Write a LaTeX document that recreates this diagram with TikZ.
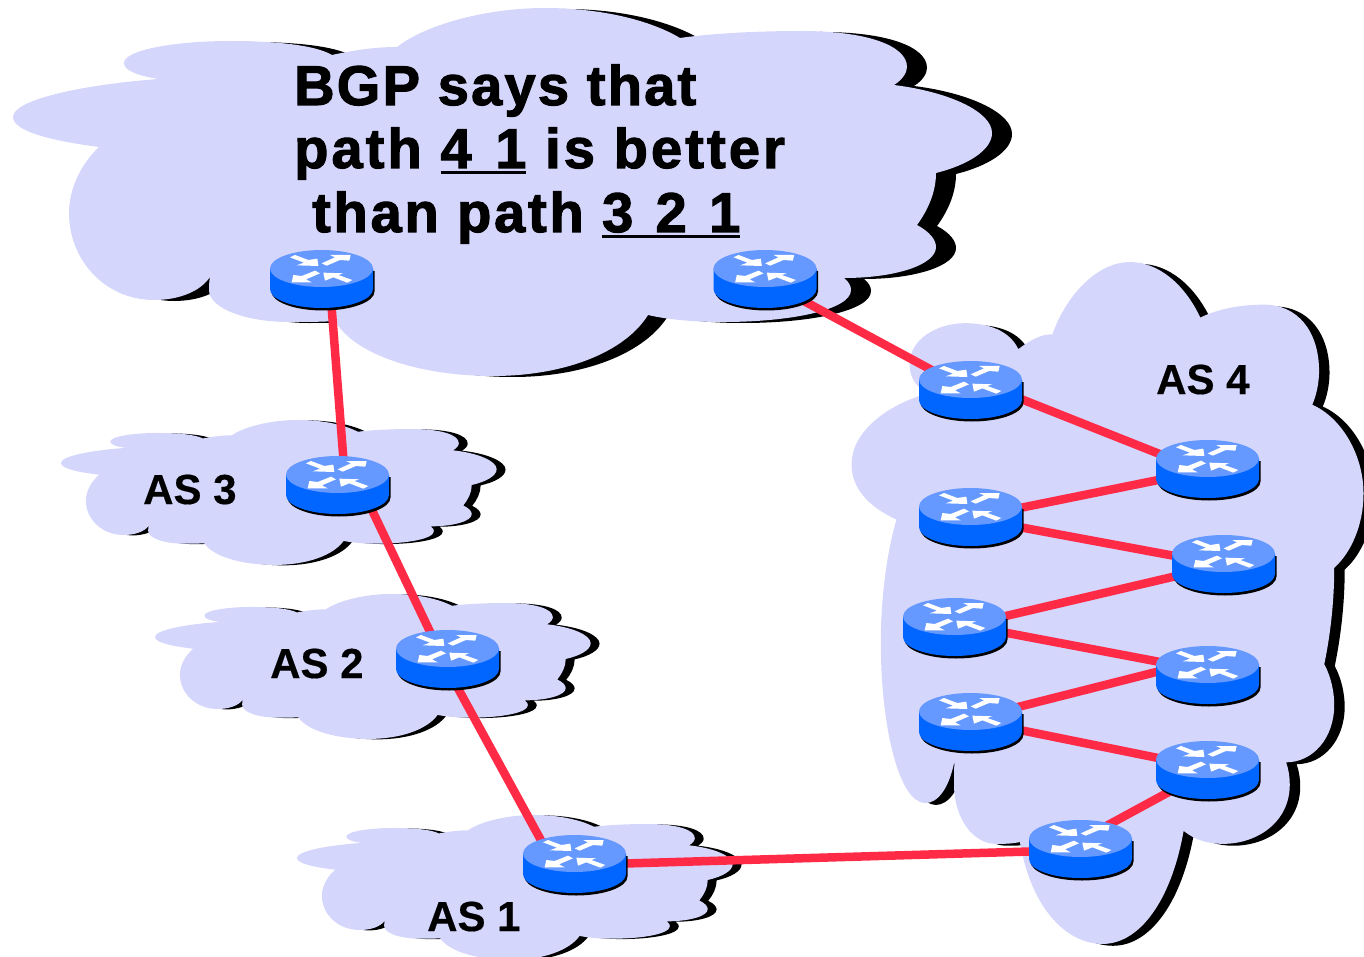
\documentclass[tikz,border=0pt]{standalone}
\usepackage{fontspec}
\setmainfont{Liberation Sans}
\newfontfamily\headfonta[FakeBold=2,LetterSpace=4.0]{Liberation Sans Bold}
\newfontfamily\headfontb[FakeBold=2,LetterSpace=5.6]{Liberation Sans Bold}
\newfontfamily\headfontc[FakeBold=2,LetterSpace=5.0]{Liberation Sans Bold}
\newfontfamily\labelfont[FakeBold=0.4]{Liberation Sans Bold}
\definecolor{cloudfill}{HTML}{D5D6FC}
\definecolor{linkred}{HTML}{FF2A45}
\definecolor{routertop}{HTML}{6699FF}
\definecolor{routerbody}{HTML}{0066FF}
\newcommand{\ulbox}[1]{\setbox0=\hbox{#1}\rlap{\rule[-6.5pt]{\wd0}{3pt}}\box0\relax}
\newcommand{\cloudpath}{
  (158,79) .. controls (135,75) and (124,70) .. (124,63)
  .. controls (124,50) and (175,41) .. (230,41)
  .. controls (275,41) and (315,45) .. (332,55)
  .. controls (355,50) and (375,47) .. (397,47)
  .. controls (425,25) and (485,8) .. (545,8)
  .. controls (600,8) and (650,20) .. (680,38)
  .. controls (715,33) and (760,31) .. (802,31)
  .. controls (865,31) and (907,45) .. (907,67)
  .. controls (907,73) and (902,80) .. (894,85)
  .. controls (950,92) and (992,112) .. (992,133)
  .. controls (992,150) and (968,165) .. (936,173)
  .. controls (936,192) and (928,210) .. (917,225)
  .. controls (930,232) and (936,240) .. (936,247)
  .. controls (936,265) and (895,278) .. (844,278)
  .. controls (849,282) and (851,286) .. (851,290)
  .. controls (851,310) and (790,322) .. (723,322)
  .. controls (695,322) and (670,320) .. (648,315)
  .. controls (625,352) and (565,376) .. (493,376)
  .. controls (420,376) and (355,355) .. (335,321)
  .. controls (320,322) and (305,322) .. (289,322)
  .. controls (245,322) and (209,308) .. (209,290)
  .. controls (209,286) and (209,282) .. (210,277)
  .. controls (200,292) and (178,300) .. (154,300)
  .. controls (105,300) and (69,260) .. (69,213)
  .. controls (69,190) and (80,165) .. (99,147)
  .. controls (45,140) and (13,130) .. (13,117)
  .. controls (13,100) and (80,85) .. (158,79) -- cycle}
\tikzset{
  x=1pt,y=-1pt,
  pics/netcloud/.style={code={
    \fill[black,shift={(20,1)}] \cloudpath;
    \fill[cloudfill] \cloudpath;
  }},
  pics/routerpic/.style={code={
    \fill[black,shift={(1.5,2.5)}] (-51.5,-11.5) -- (-51.5,9) arc[x radius=51.5,y radius=-19,start angle=180,end angle=360] -- (51.5,-11.5) -- cycle;
    \fill[routerbody] (-51.5,-11.5) -- (-51.5,9) arc[x radius=51.5,y radius=-19,start angle=180,end angle=360] -- (51.5,-11.5) -- cycle;
    \fill[routertop] (0,-11.5) ellipse[x radius=51.5,y radius=18.5];
    \begin{scope}[shift={(-61.5,-40)},scale=0.3333]
      \fill[white] (90,52)--(105,45)--(145,60)--(172,56)--(175,78)--(110,76)--(132,68)--cycle;
      \fill[white] (185,70)--(200,77)--(240,60)--(268,62)--(272,45)--(210,45)--(225,52)--cycle;
      \fill[white] (180,100)--(165,92)--(125,108)--(100,105)--(95,127)--(155,127)--(138,118)--cycle;
      \fill[white] (277,120)--(262,128)--(220,112)--(195,122)--(190,98)--(250,100)--(235,105)--cycle;
    \end{scope}
  }},
  anchorpt/.style={inner sep=0pt,minimum width=103pt,minimum height=60pt},
  link/.style={draw=linkred,line width=8.5pt},
  aslabel/.style={inner sep=0pt,anchor=base west,font=\labelfont\fontsize{42}{42}\selectfont},
  headline/.style={inner sep=0pt,anchor=base west}
}
\begin{document}
\begin{tikzpicture}
\clip (0,0) rectangle (1364,957);
\useasboundingbox (0,0) rectangle (1364,957);
% clouds
\pic at (0,0) {netcloud};
\pic[shift={(844.7,247.2)},xscale=0.523,yscale=1.853] at (0,0) {netcloud};
\pic[shift={(55.2,416.8)},xscale=0.445,yscale=0.394] at (0,0) {netcloud};
\pic[shift={(149.2,590.8)},xscale=0.445,yscale=0.394] at (0,0) {netcloud};
\pic[shift={(291.2,811.8)},xscale=0.445,yscale=0.394] at (0,0) {netcloud};
% router anchors
\node[anchorpt] (tl) at (321.5,280) {};
\node[anchorpt] (tr) at (765,280) {};
\node[anchorpt] (as3r) at (337.5,486) {};
\node[anchorpt] (as2r) at (447.5,660) {};
\node[anchorpt] (as1r) at (574.5,865) {};
\node[anchorpt] (a) at (970.5,391) {};
\node[anchorpt] (b) at (1207.5,470) {};
\node[anchorpt] (c) at (970.5,518) {};
\node[anchorpt] (d) at (1223.5,565) {};
\node[anchorpt] (e) at (954.5,628) {};
\node[anchorpt] (f) at (1207.5,676) {};
\node[anchorpt] (g) at (970.5,723) {};
\node[anchorpt] (h) at (1207.5,771) {};
\node[anchorpt] (i) at (1080.5,850) {};
% links
\draw[link] ([shift={(8,0)}]tl.center) -- ([shift={(8,0)}]as3r.center);
\draw[link] ([shift={(23,0)}]as3r.center) -- ([shift={(-4,0)}]as2r.center);
\draw[link] ([shift={(-5,0)}]as2r.center) -- ([shift={(-20,0)}]as1r.center);
\draw[link] (as1r.center) -- (i.center);
\draw[link] (tr.center) -- (a.center);
\draw[link] ([shift={(0,-12)}]a.center) -- ([shift={(0,3)}]b.center);
\draw[link] (c.center) -- (b.center);
\draw[link] (c.center) -- (d.center);
\draw[link] (e.center) -- (d.center);
\draw[link] ([shift={(0,-5)}]e.center) -- ([shift={(0,-5)}]f.center);
\draw[link] ([shift={(0,-4)}]g.center) -- ([shift={(0,-17)}]f.center);
\draw[link] ([shift={(0,-3)}]g.center) -- ([shift={(0,-3)}]h.center);
\draw[link] ([shift={(0,-10)}]i.center) -- ([shift={(0,0)}]h.center);
% routers
\foreach \r in {tl,tr,as3r,as2r,as1r,a,b,c,d,e,f,g,h,i}{\pic at (\r.center) {routerpic};}
% text
\node[headline,font=\headfonta\fontsize{56}{56}\selectfont] (h1) at (294,105) {BGP says that};
\node[headline,font=\headfontb\fontsize{56}{56}\selectfont] (h2) at (294,168) {path \ulbox{4\kern5pt\ 1} is better};
\node[headline,font=\headfontc\fontsize{56}{56}\selectfont] (h3) at (312,232) {than path \ulbox{3\kern4pt\ 2\kern4pt\ 1}};
\node[aslabel] (l3) at (143,504) {AS 3};
\node[aslabel] (l2) at (270,678) {AS 2};
\node[aslabel] (l1) at (427,931) {AS 1};
\node[aslabel] (l4) at (1156,394) {AS 4};
\end{tikzpicture}
\end{document}
